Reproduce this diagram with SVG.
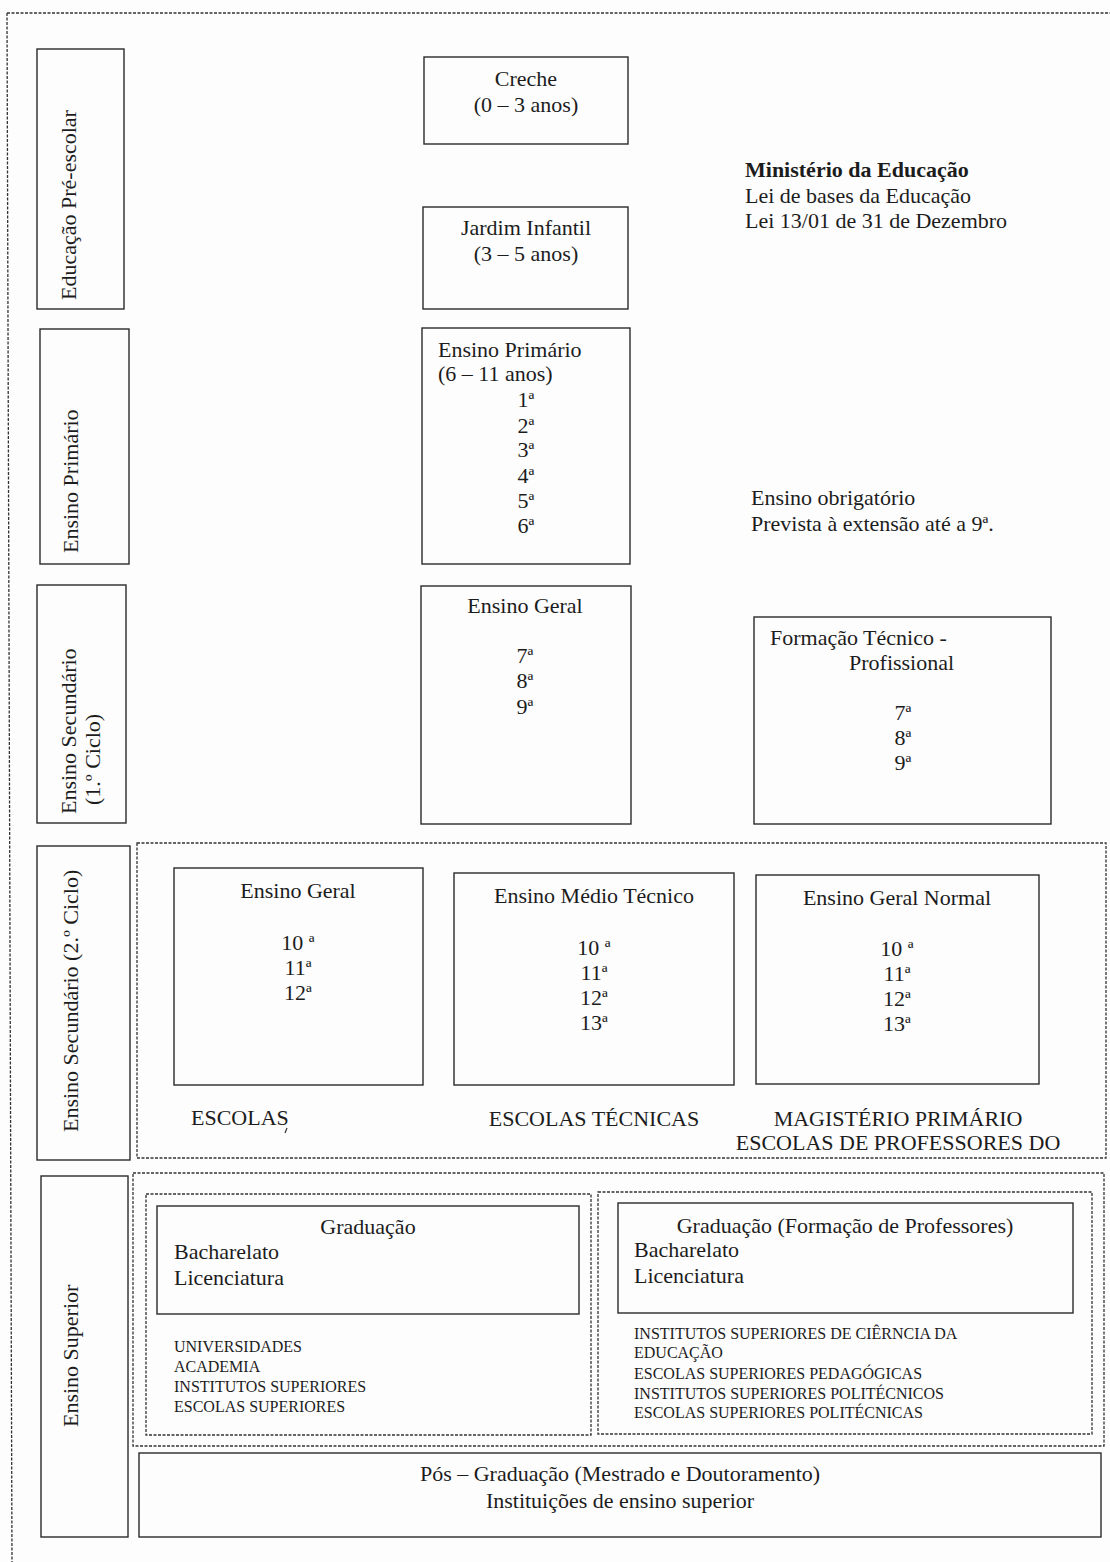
<svg xmlns="http://www.w3.org/2000/svg" width="1110" height="1562" viewBox="0 0 1110 1562">
<style>
.t{font-family:"Liberation Serif","Times New Roman",serif;font-size:22px;fill:#1c1c1c}
.m{text-anchor:middle}
.bd{font-weight:bold}
.s{font-size:16px}
.sup{font-size:21px}
.box{fill:none;stroke:#2a2a2a;stroke-width:1.4}
.dash{fill:none;stroke:#333;stroke-width:1.3;stroke-dasharray:3 1.5}
</style>
<rect x="0" y="0" width="1110" height="1562" fill="#fdfdfd"/>
<g id="page-border">
<path class="dash" d="M7 13 L1110 13 M7 13 L12 1562"/>
</g>
<g id="connectors"></g>

<g id="label-pre-escolar">
<rect class="box" x="37" y="49" width="87" height="260"/>
<text class="t" transform="translate(76,300) rotate(-90)">Educação Pré-escolar</text>
</g>
<g id="label-primario">
<rect class="box" x="40" y="329" width="89" height="235"/>
<text class="t" transform="translate(78,553) rotate(-90)">Ensino Primário</text>
</g>
<g id="label-sec1">
<rect class="box" x="37" y="585" width="89" height="238"/>
<text class="t" transform="translate(76,814) rotate(-90)">Ensino Secundário</text>
<text class="t" transform="translate(100,805) rotate(-90)">(1.º Ciclo)</text>
</g>
<g id="label-sec2">
<rect class="box" x="37" y="846" width="93" height="314"/>
<text class="t" transform="translate(78,1132) rotate(-90)">Ensino Secundário (2.º Ciclo)</text>
</g>
<g id="label-superior">
<rect class="box" x="41" y="1176" width="87" height="361"/>
<text class="t" transform="translate(78,1427) rotate(-90)">Ensino Superior</text>
</g>

<g id="creche">
<rect class="box" x="424" y="57" width="204" height="87"/>
<text class="t m" x="526" y="86">Creche</text>
<text class="t m" x="526" y="112">(0 – 3 anos)</text>
</g>
<g id="jardim">
<rect class="box" x="423" y="207" width="205" height="102"/>
<text class="t m" x="526" y="235">Jardim Infantil</text>
<text class="t m" x="526" y="261">(3 – 5 anos)</text>
</g>
<g id="ministerio">
<text class="t bd" x="745" y="177">Ministério da Educação</text>
<text class="t" x="745" y="203">Lei de bases da Educação</text>
<text class="t" x="745" y="228">Lei 13/01 de 31 de Dezembro</text>
</g>
<g id="primario">
<rect class="box" x="422" y="328" width="208" height="236"/>
<text class="t" x="438" y="357">Ensino Primário</text>
<text class="t" x="438" y="381">(6 – 11 anos)</text>
<text class="t m" x="526" y="407">1<tspan class="sup">ª</tspan></text>
<text class="t m" x="526" y="433">2<tspan class="sup">ª</tspan></text>
<text class="t m" x="526" y="457">3<tspan class="sup">ª</tspan></text>
<text class="t m" x="526" y="483">4<tspan class="sup">ª</tspan></text>
<text class="t m" x="526" y="508">5<tspan class="sup">ª</tspan></text>
<text class="t m" x="526" y="533">6<tspan class="sup">ª</tspan></text>
</g>
<g id="obrigatorio">
<text class="t" x="751" y="505">Ensino obrigatório</text>
<text class="t" x="751" y="531">Prevista à extensão até a 9<tspan class="sup">ª</tspan>.</text>
</g>
<g id="geral-1">
<rect class="box" x="421" y="586" width="210" height="238"/>
<text class="t m" x="525" y="613">Ensino Geral</text>
<text class="t m" x="525" y="663">7<tspan class="sup">ª</tspan></text>
<text class="t m" x="525" y="688">8<tspan class="sup">ª</tspan></text>
<text class="t m" x="525" y="714">9<tspan class="sup">ª</tspan></text>
</g>
<g id="formacao">
<rect class="box" x="754" y="617" width="297" height="207"/>
<text class="t" x="770" y="645">Formação Técnico -</text>
<text class="t" x="849" y="670">Profissional</text>
<text class="t m" x="903" y="720">7<tspan class="sup">ª</tspan></text>
<text class="t m" x="903" y="745">8<tspan class="sup">ª</tspan></text>
<text class="t m" x="903" y="770">9<tspan class="sup">ª</tspan></text>
</g>

<g id="sec2-group">
<rect class="dash" x="137" y="843" width="969" height="315"/>
</g>
<g id="geral-2">
<rect class="box" x="174" y="868" width="249" height="217"/>
<text class="t m" x="298" y="898">Ensino Geral</text>
<text class="t m" x="298" y="950">10 <tspan class="sup">ª</tspan></text>
<text class="t m" x="298" y="975">11<tspan class="sup">ª</tspan></text>
<text class="t m" x="298" y="1000">12<tspan class="sup">ª</tspan></text>
</g>
<g id="medio-tecnico">
<rect class="box" x="454" y="873" width="280" height="212"/>
<text class="t m" x="594" y="903">Ensino Médio Técnico</text>
<text class="t m" x="594" y="955">10 <tspan class="sup">ª</tspan></text>
<text class="t m" x="594" y="980">11<tspan class="sup">ª</tspan></text>
<text class="t m" x="594" y="1005">12<tspan class="sup">ª</tspan></text>
<text class="t m" x="594" y="1030">13<tspan class="sup">ª</tspan></text>
</g>
<g id="geral-normal">
<rect class="box" x="756" y="875" width="283" height="209"/>
<text class="t m" x="897" y="905">Ensino Geral Normal</text>
<text class="t m" x="897" y="956">10 <tspan class="sup">ª</tspan></text>
<text class="t m" x="897" y="981">11<tspan class="sup">ª</tspan></text>
<text class="t m" x="897" y="1006">12<tspan class="sup">ª</tspan></text>
<text class="t m" x="897" y="1031">13<tspan class="sup">ª</tspan></text>
</g>
<g id="escolas-labels">
<text class="t" x="191" y="1125">ESCOLAS</text>
<path d="M287 1128 L285 1133" stroke="#333" stroke-width="1.2" fill="none"/>
<text class="t m" x="594" y="1126">ESCOLAS TÉCNICAS</text>
<text class="t m" x="898" y="1126">MAGISTÉRIO PRIMÁRIO</text>
<text class="t m" x="898" y="1150">ESCOLAS DE PROFESSORES DO</text>
</g>

<g id="superior-group">
<rect class="dash" x="133" y="1173" width="971" height="273"/>
</g>
<g id="graduacao-group">
<rect class="dash" x="146" y="1194" width="445" height="241"/>
<rect class="box" x="157" y="1206" width="422" height="108"/>
<text class="t m" x="368" y="1234">Graduação</text>
<text class="t" x="174" y="1259">Bacharelato</text>
<text class="t" x="174" y="1285">Licenciatura</text>
<text class="t s" x="174" y="1352">UNIVERSIDADES</text>
<text class="t s" x="174" y="1372">ACADEMIA</text>
<text class="t s" x="174" y="1392">INSTITUTOS SUPERIORES</text>
<text class="t s" x="174" y="1412">ESCOLAS SUPERIORES</text>
</g>
<g id="graduacao-prof-group">
<rect class="dash" x="598" y="1192" width="494" height="242"/>
<rect class="box" x="618" y="1203" width="455" height="110"/>
<text class="t m" x="845" y="1233">Graduação (Formação de Professores)</text>
<text class="t" x="634" y="1257">Bacharelato</text>
<text class="t" x="634" y="1283">Licenciatura</text>
<text class="t s" x="634" y="1339">INSTITUTOS SUPERIORES DE CIÊRNCIA DA</text>
<text class="t s" x="634" y="1358">EDUCAÇÃO</text>
<text class="t s" x="634" y="1379">ESCOLAS SUPERIORES PEDAGÓGICAS</text>
<text class="t s" x="634" y="1399">INSTITUTOS SUPERIORES POLITÉCNICOS</text>
<text class="t s" x="634" y="1418">ESCOLAS SUPERIORES POLITÉCNICAS</text>
</g>
<g id="pos-graduacao">
<rect class="box" x="139" y="1453" width="962" height="84"/>
<text class="t m" x="620" y="1481">Pós – Graduação (Mestrado e Doutoramento)</text>
<text class="t m" x="620" y="1508">Instituições de ensino superior</text>
</g>
</svg>
